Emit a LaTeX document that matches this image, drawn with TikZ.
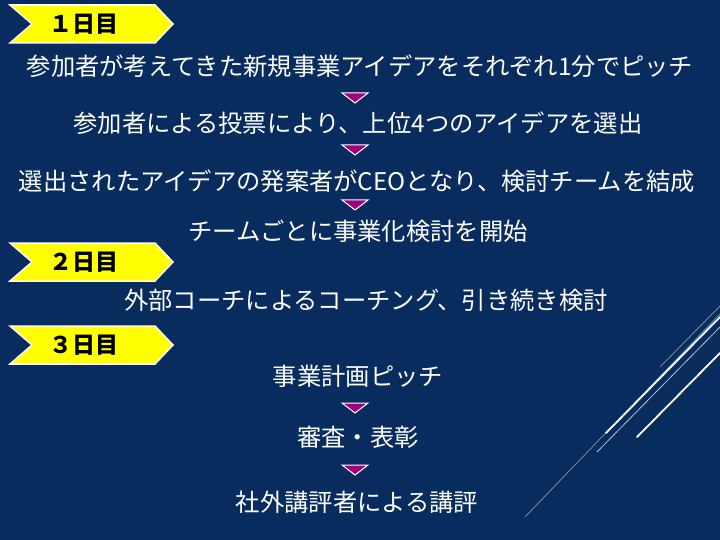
\documentclass[tikz,border=0pt]{standalone}
\usepackage{fontspec}
\setmainfont{Noto Sans CJK JP}
\definecolor{navy}{RGB}{8,44,94}
\definecolor{chevyellow}{RGB}{255,255,0}
\definecolor{tripurple}{RGB}{160,0,128}
\definecolor{linegray}{RGB}{130,150,180}
\tikzset{
  chev/.style={fill=chevyellow,draw=white,line width=1.5pt,line join=miter},
  daylabel/.style={font=\fontsize{23}{23}\selectfont\bfseries,text=black},
  steptext/.style={font=\fontsize{24.3}{25}\selectfont,text=white,inner sep=0pt},
  downtri/.style={fill=tripurple,draw=white,line width=1pt},
  deco/.style={line cap=round}
}
\newcommand{\daychev}[1]{%
  \draw[chev] (10,#1-19) -- (155,#1-19) -- (173,#1) -- (155,#1+19) -- (10,#1+19) -- (32,#1) -- cycle;}
\newcommand{\downmark}[1]{%
  \draw[downtri] (342,#1-5) -- (368,#1-5) -- (355,#1+5) -- cycle;}
\begin{document}
\begin{tikzpicture}[x=1pt,y=-1pt]
\fill[navy] (0,0) rectangle (720,540);
\useasboundingbox (0,0) rectangle (720,540);

% day 1
\daychev{24}
\node[daylabel] (day1) at (84,24) {１日目};
\node[steptext] (pitch) at (360,66) {参加者が考えてきた新規事業アイデアをそれぞれ1分でピッチ};
\downmark{98}
\node[steptext] (vote) at (358,123) {参加者による投票により、上位4つのアイデアを選出};
\downmark{150}
\node[steptext] (team) at (357,181) {選出されたアイデアの発案者がCEOとなり、検討チームを結成};
\downmark{205}
\node[steptext] (start) at (358,231) {チームごとに事業化検討を開始};

% day 2
\daychev{262}
\node[daylabel] (day2) at (84,262) {２日目};
\node[steptext] (coach) at (366,300) {外部コーチによるコーチング、引き続き検討};

% day 3
\daychev{345}
\node[daylabel] (day3) at (84,345) {３日目};
\node[steptext] (plan) at (358,376) {事業計画ピッチ};
\downmark{408}
\node[steptext] (award) at (358,437) {審査・表彰};
\downmark{470}
\node[steptext] (review) at (357,502) {社外講評者による講評};

% decoration lines
\draw[deco,linegray,line width=0.7pt] (660,367) -- (720,306);
\draw[deco,linegray,line width=0.7pt] (525,517) -- (720,314);
\draw[deco,white,line width=1.8pt] (606,433) -- (720,317);
\draw[deco,linegray!60!white,line width=0.8pt] (597,452) -- (720,327);
\draw[deco,white,line width=1.8pt] (637,437) -- (720,353);
\end{tikzpicture}
\end{document}
